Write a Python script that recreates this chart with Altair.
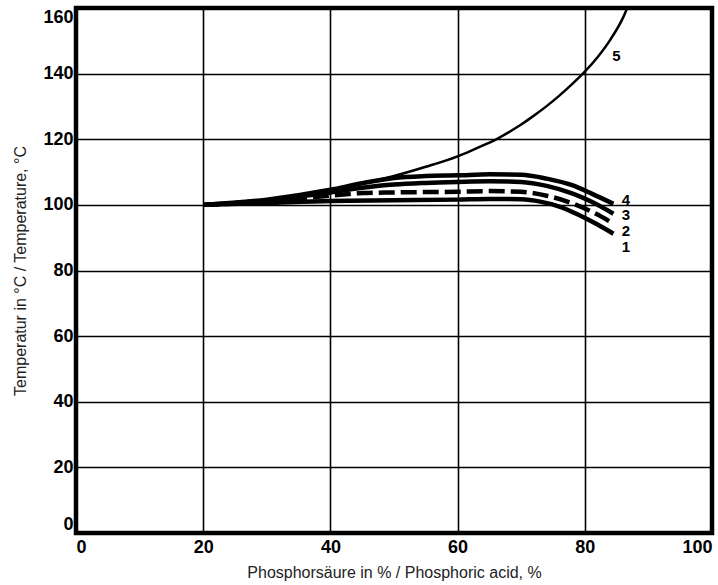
import altair as alt
import pandas as pd

# Curve data (phosphoric acid %, temperature °C)
c1_x = [20, 30, 40, 50, 60, 65, 70, 73, 76, 79, 82, 84.5]
c1_y = [100, 100.6, 101.2, 101.4, 101.6, 101.8, 101.7, 101.0, 99.5, 97.0, 94.0, 91.2]

c2_x = [20, 30, 40, 45, 50, 60, 65, 70, 74, 78, 81, 84.5]
c2_y = [100, 101.0, 102.8, 103.6, 103.8, 104.0, 104.2, 104.0, 102.8, 100.5, 98.0, 94.3]

c3_x = [20, 30, 40, 45, 50, 55, 60, 65, 70, 74, 78, 81, 84.5]
c3_y = [100, 101.3, 103.8, 105.2, 106.2, 106.7, 107.0, 107.2, 107.0, 105.8, 103.5, 101.0, 97.3]

c4_x = [20, 30, 40, 45, 50, 55, 60, 65, 70, 74, 78, 81, 84.5]
c4_y = [100, 101.6, 104.6, 106.6, 108.2, 108.8, 109.0, 109.3, 109.2, 108.0, 106.0, 103.5, 100.3]

c5_x = [20, 25, 30, 35, 40, 45, 50, 55, 60, 62, 64, 66, 68, 70, 72, 74, 76, 78, 80, 82, 84, 86, 87]
c5_y = [100, 100.6, 101.6, 103.0, 104.6, 106.6, 108.8, 111.6, 114.8, 116.4, 118.1, 119.9, 122.1,
        124.5, 127.2, 130.1, 133.3, 136.8, 140.6, 145.0, 150.3, 157.0, 161.5]

label_text = ["1", "2", "3", "4", "5"]
label_x = [85.8, 85.8, 85.8, 85.8, 84.3]
label_y = [87.2, 92.0, 96.8, 101.6, 145.3]

ticks = [0, 20, 40, 60, 80, 100]
yticks = [0, 20, 40, 60, 80, 100, 120, 140, 160]

def frame(xs, ys, name):
    return pd.DataFrame({"x": xs, "y": ys, "curve": name, "order": range(len(xs))})

solid = pd.concat([frame(c1_x, c1_y, "1"), frame(c3_x, c3_y, "3"), frame(c4_x, c4_y, "4")])
dashed = frame(c2_x, c2_y, "2")
thin = frame(c5_x, c5_y, "5")
labels = pd.DataFrame({"t": label_text, "x": label_x, "y": label_y})

xs = alt.Scale(domain=[0, 100], nice=False, zero=False)
ys = alt.Scale(domain=[0, 160], nice=False, zero=False)

xax = alt.Axis(values=ticks, title="Phosphorsäure in % / Phosphoric acid, %",
               grid=True, gridColor="black", gridWidth=1.6, gridOpacity=1,
               domain=False, ticks=False, labelFlush=True,
               labelFont="Liberation Sans", labelFontWeight="bold", labelFontSize=18,
               labelColor="black", labelPadding=5,
               titleFont="Liberation Sans", titleFontWeight="normal", titleFontSize=16,
               titleColor="#222", titlePadding=8)
yax = alt.Axis(values=yticks, title="Temperatur in °C / Temperature, °C",
               grid=True, gridColor="black", gridWidth=1.6, gridOpacity=1,
               domain=False, ticks=False, labelFlush=True,
               labelFont="Liberation Sans", labelFontWeight="bold", labelFontSize=18,
               labelColor="black", labelPadding=3,
               titleFont="Liberation Sans", titleFontWeight="normal", titleFontSize=16,
               titleColor="#222", titlePadding=14)

base_x = alt.X("x:Q", scale=xs, axis=xax)
base_y = alt.Y("y:Q", scale=ys, axis=yax)

solid_lines = alt.Chart(solid).mark_line(
    color="black", strokeWidth=4.5, interpolate="monotone", strokeCap="butt", clip=True
).encode(x=base_x, y=base_y, detail="curve:N", order="order:Q")

dashed_line = alt.Chart(dashed).mark_line(
    color="black", strokeWidth=4.5, interpolate="monotone", strokeDash=[16, 6],
    strokeCap="butt", clip=True
).encode(x="x:Q", y="y:Q", order="order:Q")

thin_line = alt.Chart(thin).mark_line(
    color="black", strokeWidth=2.5, interpolate="monotone", clip=True
).encode(x="x:Q", y="y:Q", order="order:Q")

text = alt.Chart(labels).mark_text(
    font="Liberation Sans", fontWeight="bold", fontSize=15, color="black", align="left",
    baseline="middle"
).encode(x="x:Q", y="y:Q", text="t:N")

chart = alt.layer(solid_lines, dashed_line, thin_line, text).properties(
    width=636, height=525, autosize="none",
    padding={"left": 76, "top": 8, "right": 6, "bottom": 52},
    background="white"
).configure_view(stroke="black", strokeWidth=4.5)

chart.save("out.html", embed_options={"renderer": "svg", "actions": False})
